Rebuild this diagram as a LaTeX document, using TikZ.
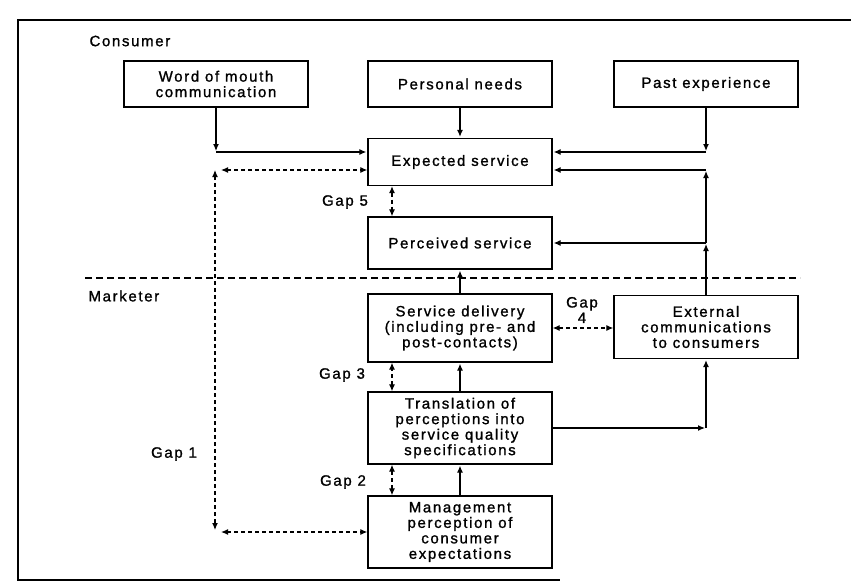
\documentclass[tikz,border=0pt]{standalone}
\usepackage{fontspec}
\setmainfont{Liberation Sans}[LetterSpace=11, FakeBold=1.2]
\usetikzlibrary{arrows.meta}

\begin{document}
\begin{tikzpicture}[x=1pt, y=-1pt,
    every node/.style={font=\fontsize{15}{15.5}\selectfont},
    box/.style={draw, line width=1.3pt, minimum width=184pt, align=center, inner sep=2pt},
    flow/.style={-{Latex[length=7pt,width=6pt]}, line width=1.2pt, shorten >=1pt},
    gap/.style={{Latex[length=7pt,width=6pt]}-{Latex[length=7pt,width=6pt]}, dash pattern=on 4pt off 3pt, line width=1.2pt}]
    % Column positions
    \def\colA{216} % left column
    \def\colB{460} % middle column
    \def\colC{706} % right column
    \def\gapX{215} % Gap 1 line

    \useasboundingbox (0,0) rectangle (851,584);

    % Page frame
    \draw[line width=1.3pt] (851,20) -- (18,20) -- (18,580) -- (560,580);

    % Consumer side
    \node[anchor=west] (consumer) at (86,41) {Consumer};
    \node[box, minimum height=46pt] (wom) at (\colA,84) {Word of mouth\\communication};
    \node[box, minimum height=46pt] (needs) at (\colB,84) {Personal needs};
    \node[box, minimum height=46pt] (past) at (\colC,84) {Past experience};
    \node[box, minimum height=47pt] (expected) at (\colB,162) {Expected service};
    \node[box, minimum height=52pt] (perceived) at (\colB,243) {Perceived service};

    % Dividing line
    \draw[dash pattern=on 7pt off 4pt, line width=1.1pt] (85,278) -- (800,278);

    % Marketer side
    \node[anchor=west] (marketer) at (85,296) {Marketer};
    \node[box, minimum height=68pt] (delivery) at (\colB,328) {Service delivery\\(including pre- and\\post-contacts)};
    \node[box, minimum height=63pt] (extcomm) at (\colC,327) {External\\communications\\to consumers};
    \node[box, minimum height=72pt] (transl) at (\colB,428) {Translation of\\perceptions into\\service quality\\specifications};
    \node[box, minimum height=72pt] (mgmt) at (\colB,532) {Management\\perception of\\consumer\\expectations};

    % Gap labels
    \node (gapone) at (174,454) {Gap 1};
    \node (gaptwo) at (343,482) {Gap 2};
    \node (gapthree) at (342,375) {Gap 3};
    \node[align=center] (gapfour) at (582,310) {Gap\\4};
    \node (gapfive) at (345,202) {Gap 5};

    % Influences on expected service
    \coordinate (womc) at (\colA,152);
    \coordinate (pastc) at (\colC,152);
    \draw[flow] (wom) -- (womc);
    \draw[flow] (womc) -- (expected.west |- womc);
    \draw[flow] (needs) -- (expected);
    \draw[flow] (past) -- (pastc);
    \draw[flow] (pastc) -- (expected.east |- pastc);

    % External communications
    \coordinate (extp) at (\colC,243);
    \coordinate (extq) at (\colC,170);
    \draw[flow] (extcomm) -- (extp);
    \draw[flow] (extp) -- (perceived.east |- extp);
    \draw[flow] (extp) -- (extq);
    \draw[flow] (extq) -- (expected.east |- extq);

    % Marketer flow
    \coordinate (transc) at (\colC,428);
    \draw[flow] (mgmt) -- (transl);
    \draw[flow] (transl) -- (delivery);
    \draw[flow] (delivery) -- (perceived);
    \draw[flow] (transl.east) -- (transc);
    \draw[flow] (transc) -- (extcomm);

    % Gaps
    \coordinate (gapup) at (\gapX,170);
    \coordinate (gapdn) at (\gapX,530);
    \draw[gap] (gapup) -- (gapdn);
    \draw[gap] ([xshift=6pt]gapup) -- (expected.west |- gapup);
    \draw[gap] ([xshift=6pt]gapdn |- mgmt.west) -- (mgmt.west);
    \draw[gap] ([xshift=-68pt]mgmt.north) -- ([xshift=-68pt]transl.south);
    \draw[gap] ([xshift=-68pt]transl.north) -- ([xshift=-68pt]delivery.south);
    \draw[gap] (delivery.east) -- (extcomm.west |- delivery.east);
    \draw[gap] ([xshift=-68pt]expected.south) -- ([xshift=-68pt]perceived.north);

\end{tikzpicture}
\end{document}
